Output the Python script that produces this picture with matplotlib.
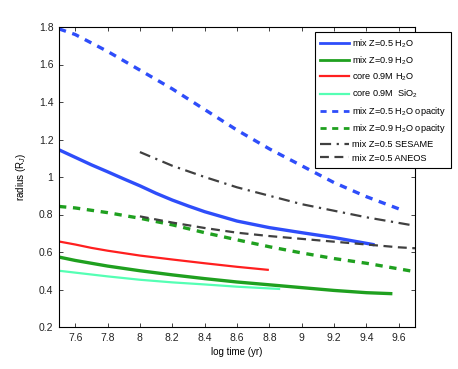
import matplotlib
matplotlib.use("Agg")
import matplotlib.pyplot as plt
from matplotlib.ticker import FuncFormatter

# log time (yr) / radius (R_J)
t_mix05 = [7.5, 7.6, 7.7, 7.8, 7.9, 8.0, 8.1, 8.2, 8.3, 8.4, 8.6, 8.8, 9.0, 9.2, 9.44]
r_mix05 = [1.145, 1.105, 1.065, 1.028, 0.99, 0.953, 0.913, 0.877, 0.845, 0.815,
           0.765, 0.73, 0.703, 0.677, 0.64]

t_mix09 = [7.5, 7.6, 7.7, 7.8, 8.0, 8.2, 8.4, 8.6, 8.8, 9.0, 9.2, 9.4, 9.55]
r_mix09 = [0.573, 0.555, 0.54, 0.525, 0.50, 0.478, 0.458, 0.44, 0.425, 0.41, 0.395, 0.383, 0.378]

t_core_h2o = [7.5, 7.6, 7.7, 7.8, 8.0, 8.2, 8.4, 8.6, 8.79]
r_core_h2o = [0.656, 0.64, 0.622, 0.607, 0.581, 0.56, 0.54, 0.521, 0.505]

t_core_sio2 = [7.5, 7.6, 7.8, 8.0, 8.2, 8.4, 8.6, 8.86]
r_core_sio2 = [0.50, 0.49, 0.47, 0.452, 0.438, 0.427, 0.415, 0.403]

t_mix05_op = [7.5, 7.6, 7.8, 8.0, 8.2, 8.4, 8.6, 8.8, 9.0, 9.2, 9.4, 9.6]
r_mix05_op = [1.79, 1.76, 1.67, 1.57, 1.47, 1.36, 1.25, 1.15, 1.06, 0.97, 0.895, 0.83]

t_mix09_op = [7.5, 7.6, 7.8, 8.0, 8.2, 8.4, 8.6, 8.8, 9.0, 9.2, 9.4, 9.6, 9.7]
r_mix09_op = [0.843, 0.835, 0.81, 0.78, 0.745, 0.703, 0.665, 0.628, 0.595, 0.565, 0.54, 0.51, 0.495]

t_sesame = [8.0, 8.2, 8.4, 8.6, 8.8, 9.0, 9.2, 9.4, 9.6, 9.7]
r_sesame = [1.133, 1.06, 1.0, 0.945, 0.90, 0.855, 0.82, 0.785, 0.755, 0.74]

t_aneos = [8.0, 8.2, 8.4, 8.6, 8.8, 9.0, 9.2, 9.4, 9.6, 9.7]
r_aneos = [0.79, 0.757, 0.728, 0.703, 0.685, 0.67, 0.655, 0.64, 0.625, 0.62]

blue = "#2e4dfa"
green = "#1fa01f"
red = "#ff1f1f"
aqua = "#55ffb4"
gray = "#404040"

plt.rcParams["font.family"] = ["Liberation Sans", "DejaVu Sans"]
plt.rcParams["mathtext.fontset"] = "custom"
plt.rcParams["mathtext.rm"] = "Liberation Sans"
plt.rcParams["mathtext.it"] = "Liberation Sans:italic"
plt.rcParams["font.size"] = 7

fig = plt.figure(figsize=(4.58, 3.69), dpi=100)
ax = fig.add_axes([59 / 458, 1 - 327 / 369, 356 / 458, 300 / 369])

ax.plot(t_mix05, r_mix05, color=blue, lw=2.4, label="mix Z=0.5 H$_2$O")
ax.plot(t_mix09, r_mix09, color=green, lw=2.4, label="mix Z=0.9 H$_2$O")
ax.plot(t_core_h2o, r_core_h2o, color=red, lw=1.6, label="core 0.9M H$_2$O")
ax.plot(t_core_sio2, r_core_sio2, color=aqua, lw=1.6, label="core 0.9M  SiO$_2$")
ax.plot(t_mix05_op, r_mix05_op, color=blue, lw=2.4, ls=(0, (2.2, 2.0)),
        label="mix Z=0.5 H$_2$O opacity")
ax.plot(t_mix09_op, r_mix09_op, color=green, lw=2.4, ls=(0, (2.2, 2.0)),
        label="mix Z=0.9 H$_2$O opacity")
ax.plot(t_sesame, r_sesame, color=gray, lw=1.6, ls=(0, (5, 2.5, 1, 2.5)),
        label="mix Z=0.5 SESAME")
ax.plot(t_aneos, r_aneos, color=gray, lw=1.6, ls=(0, (4, 2.5)),
        label="mix Z=0.5 ANEOS")

ax.set_xlim(7.5, 9.7)
ax.set_ylim(0.2, 1.8)
ax.set_xticks([7.6, 7.8, 8.0, 8.2, 8.4, 8.6, 8.8, 9.0, 9.2, 9.4, 9.6])
ax.set_yticks([0.2, 0.4, 0.6, 0.8, 1.0, 1.2, 1.4, 1.6, 1.8])
ax.xaxis.set_major_formatter(FuncFormatter(lambda v, p: f"{v:g}"))
ax.yaxis.set_major_formatter(FuncFormatter(lambda v, p: f"{v:g}"))
ax.tick_params(direction="in", top=True, right=True, length=3, width=0.6,
               labelsize=7.5, colors="#222222", pad=4)
for s in ax.spines.values():
    s.set_linewidth(0.8)

ax.set_xlabel("log time (yr)", fontsize=7, labelpad=3)
ax.set_ylabel("radius (R$_J$)", fontsize=7, labelpad=8)

leg = fig.legend(loc="upper right", bbox_to_anchor=(451 / 458, 1 - 32 / 369),
                 fontsize=6.6, handlelength=3.1, handletextpad=0.3,
                 labelspacing=0.5, borderpad=0.6, borderaxespad=0,
                 fancybox=False, framealpha=1, edgecolor="black")
leg.get_frame().set_linewidth(0.8)
# legend keys are drawn a little thinner than the curves
for h in leg.legend_handles:
    h.set_linewidth(min(h.get_linewidth(), 2.0))

fig.savefig("out.png", dpi=100)
